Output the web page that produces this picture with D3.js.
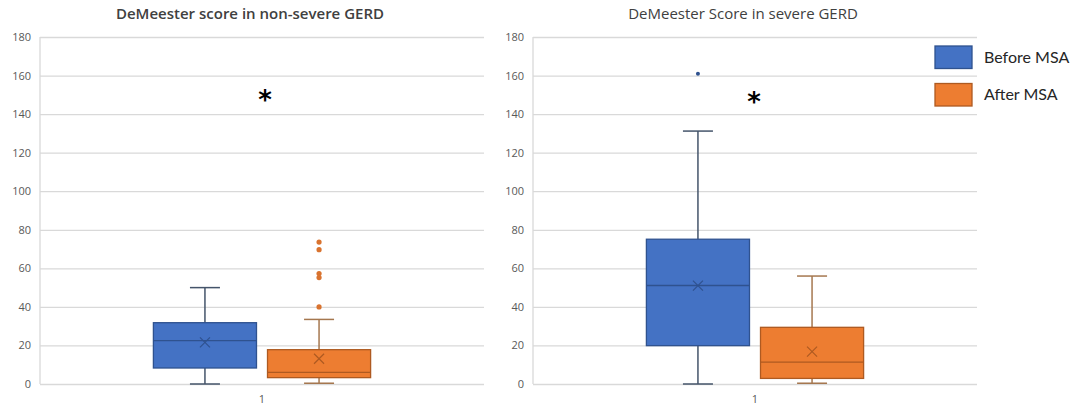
<!DOCTYPE html>
<html>
<head>
<meta charset="utf-8">
<script src="https://cdn.jsdelivr.net/npm/d3@7"></script>
<style>
  body { margin: 0; background: #fff; }
  text { font-family: Lato, "Open Sans", sans-serif; }
</style>
</head>
<body>
<svg id="chart"></svg>
<script>
    // ---- data ----
    var categories = ['1'];
    var series = ['Before MSA', 'After MSA'];
    var yTicks = [0, 20, 40, 60, 80, 100, 120, 140, 160, 180];
    var titles = ['DeMeester score in non-severe GERD', 'DeMeester Score in severe GERD'];

    // [min, q1, median, q3, max]
    var nonSevereBefore = [0, 8.3, 22.5, 31.8, 50];
    var nonSevereAfter = [0.4, 3.3, 6, 17.8, 33.5];
    var severeBefore = [0, 19.9, 51.1, 75.1, 131.2];
    var severeAfter = [0.4, 2.9, 11.3, 29.4, 56];

    var nonSevereMeans = [21.6, 13.1];
    var severeMeans = [51, 16.8];

    var nonSevereOutliers = [[], [73.6, 69.7, 57.3, 55.2, 40]];
    var severeOutliers = [[161], []];

    var significance = [151, 150];   // where the * sits

    var width = 1084;
    var height = 419;
    var fill = ['#4472c4', '#ed7d31'];
    var border = ['#2f528f', '#ae5a21'];
    var whisk = ['#44546a', '#a5774f'];

    var chart = d3.select('#chart')
        .attr('width', width)
        .attr('height', height);

    var y = d3.scaleLinear().domain([0, 180]).range([384, 37]);

    var panels = [
        { left: 40, stats: [nonSevereBefore, nonSevereAfter], means: nonSevereMeans,
          outliers: nonSevereOutliers, title: titles[0], weight: 600, star: significance[0], starDx: 3 },
        { left: 533, stats: [severeBefore, severeAfter], means: severeMeans,
          outliers: severeOutliers, title: titles[1], weight: 400, star: significance[1], starDx: -1 }
    ];
    var plotW = 444;

    panels.forEach(function(p) {
        var g = chart.append('g').attr('transform', 'translate(' + p.left + ',0)');

        var x0 = d3.scaleBand().domain(categories).range([0, plotW]).padding(0.343);
        var x1 = d3.scaleBand().domain(series).range([0, x0.bandwidth()]).paddingInner(0.0965);

        // gridlines + tick labels
        var axis = d3.axisLeft(y).tickValues(yTicks).tickSize(-plotW).tickPadding(9);
        var ax = g.append('g').call(axis);
        ax.select('.domain').remove();
        ax.selectAll('.tick line').attr('stroke', '#d9d9d9').attr('stroke-width', 1.3);
        ax.selectAll('.tick text')
            .attr('fill', '#595959')
            .style('font-size', '11px')
            .style('font-family', '"Open Sans", Lato, sans-serif');

        // left axis line
        g.append('line')
            .attr('x1', 0).attr('x2', 0)
            .attr('y1', y(180)).attr('y2', y(0))
            .attr('stroke', '#d9d9d9').attr('stroke-width', 1.3);

        // category label
        var xAxis = d3.axisBottom(x0).tickSize(0).tickPadding(11);
        var bx = g.append('g').attr('transform', 'translate(0,' + y(0) + ')').call(xAxis);
        bx.select('.domain').remove();
        bx.selectAll('.tick text')
            .attr('fill', '#595959')
            .style('font-size', '11px')
            .style('font-family', '"Open Sans", Lato, sans-serif');

        // title
        g.append('text')
            .attr('x', plotW / 2 - 12)
            .attr('y', 19)
            .attr('text-anchor', 'middle')
            .attr('fill', '#404040')
            .style('font-family', '"Open Sans", sans-serif')
            .style('font-size', '15px')
            .style('font-weight', p.weight)
            .text(p.title);

        series.forEach(function(s, i) {
            var st = p.stats[i];
            var bx0 = x0(categories[0]) + x1(s);
            var bw = x1.bandwidth();
            var cx = bx0 + bw / 2;
            var cap = 15;
            var sg = g.append('g');

            // whiskers
            sg.append('line')
                .attr('x1', cx).attr('x2', cx)
                .attr('y1', y(st[4])).attr('y2', y(st[3]))
                .attr('stroke', whisk[i]).attr('stroke-width', 1.5);
            sg.append('line')
                .attr('x1', cx).attr('x2', cx)
                .attr('y1', y(st[1])).attr('y2', y(st[0]))
                .attr('stroke', whisk[i]).attr('stroke-width', 1.5);
            [st[0], st[4]].forEach(function(v) {
                sg.append('line')
                    .attr('x1', cx - cap).attr('x2', cx + cap)
                    .attr('y1', y(v)).attr('y2', y(v))
                    .attr('stroke', whisk[i]).attr('stroke-width', 1.5);
            });

            // box
            sg.append('rect')
                .attr('x', bx0).attr('width', bw)
                .attr('y', y(st[3])).attr('height', y(st[1]) - y(st[3]))
                .attr('fill', fill[i])
                .attr('stroke', border[i]).attr('stroke-width', 1.3);

            // median
            sg.append('line')
                .attr('x1', bx0).attr('x2', bx0 + bw)
                .attr('y1', y(st[2])).attr('y2', y(st[2]))
                .attr('stroke', border[i]).attr('stroke-width', 1.3);

            // mean marker
            var my = y(p.means[i]);
            var m = 5;
            sg.append('path')
                .attr('d', 'M' + (cx - m) + ',' + (my - m) + 'L' + (cx + m) + ',' + (my + m) +
                           'M' + (cx - m) + ',' + (my + m) + 'L' + (cx + m) + ',' + (my - m))
                .attr('stroke', border[i]).attr('stroke-width', 1.2).attr('fill', 'none');

            // outliers
            sg.selectAll('circle.out')
                .data(p.outliers[i])
                .enter().append('circle')
                .attr('class', 'out')
                .attr('cx', cx)
                .attr('cy', function(d) { return y(d); })
                .attr('r', i === 0 ? 2 : 2.6)
                .attr('fill', i === 0 ? '#2f528f' : '#d9732f');
        });

        // significance star
        g.append('text')
            .attr('x', plotW / 2 + p.starDx)
            .attr('y', y(p.star) + 16)
            .attr('text-anchor', 'middle')
            .attr('fill', '#000')
            .style('font-family', '"DejaVu Sans", sans-serif')
            .style('font-size', '26px')
            .style('font-weight', 700)
            .text('*');
    });

    // legend
    var leg = chart.append('g').attr('transform', 'translate(935,46)');
    var ly = d3.scaleBand().domain(series).range([0, 60]).paddingInner(0.4);
    series.forEach(function(s, i) {
        leg.append('rect')
            .attr('x', 0).attr('y', ly(s))
            .attr('width', 37).attr('height', ly.bandwidth())
            .attr('fill', fill[i])
            .attr('stroke', border[i]).attr('stroke-width', 1.3);
        leg.append('text')
            .attr('x', 49)
            .attr('y', ly(s) + ly.bandwidth() / 2 + 5.5)
            .attr('fill', '#262626')
            .style('font-size', '16px')
            .text(s);
    });
</script>
</body>
</html>
